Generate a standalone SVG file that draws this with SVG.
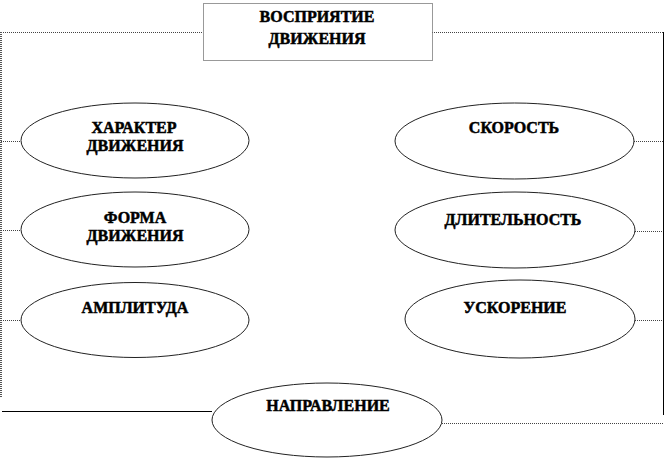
<svg xmlns="http://www.w3.org/2000/svg" width="670" height="460" viewBox="0 0 670 460">
<style>
.bg{fill:#fff}
.box{fill:#fff;stroke:#333;stroke-width:1;stroke-dasharray:1 1}
.el{fill:#fff;stroke:#222;stroke-width:1}
.dot{fill:none;stroke:#444;stroke-width:1;stroke-dasharray:1 1}
.dot2{fill:none;stroke:#555;stroke-width:2;stroke-dasharray:1 1}
.solid{fill:none;stroke:#000;stroke-width:1}
.t{font-family:"Liberation Serif","DejaVu Serif","Times New Roman",serif;font-weight:bold;font-size:16px;fill:#000;stroke:#000;stroke-width:0.5;text-anchor:middle}
</style>
<rect class="bg" x="0" y="0" width="670" height="460"/>
<g id="connectors">
  <line class="dot" x1="1" y1="32.5" x2="203" y2="32.5"/>
  <line class="dot" x1="432" y1="32.5" x2="663" y2="32.5"/>
  <line class="dot2" x1="1" y1="32" x2="1" y2="398"/>
  <line class="solid" x1="663.5" y1="32" x2="663.5" y2="415"/>
  <line class="dot" x1="1" y1="141.5" x2="21" y2="141.5"/>
  <line class="dot" x1="1" y1="230.5" x2="21" y2="230.5"/>
  <line class="dot" x1="1" y1="320.5" x2="21" y2="320.5"/>
  <line class="dot" x1="634" y1="141.5" x2="663" y2="141.5"/>
  <line class="dot" x1="635" y1="231.5" x2="663" y2="231.5"/>
  <line class="dot" x1="635" y1="320.5" x2="663" y2="320.5"/>
  <line class="solid" x1="2" y1="411.5" x2="212" y2="411.5"/>
  <line class="dot" x1="442" y1="423.5" x2="664" y2="423.5"/>
</g>
<g id="title">
  <rect class="box" x="203.5" y="3.5" width="229" height="57"/>
  <text class="t" x="317" y="22">ВОСПРИЯТИЕ</text>
  <text class="t" x="317" y="44">ДВИЖЕНИЯ</text>
</g>
<g id="character">
  <ellipse class="el" cx="135" cy="140.5" rx="114" ry="37.5"/>
  <text class="t" x="134" y="133">ХАРАКТЕР</text>
  <text class="t" x="135" y="151">ДВИЖЕНИЯ</text>
</g>
<g id="form">
  <ellipse class="el" cx="135" cy="229.5" rx="114" ry="37.5"/>
  <text class="t" x="135" y="223">ФОРМА</text>
  <text class="t" x="135" y="241">ДВИЖЕНИЯ</text>
</g>
<g id="amplitude">
  <ellipse class="el" cx="135" cy="320" rx="114" ry="37.5"/>
  <text class="t" x="135" y="313">АМПЛИТУДА</text>
</g>
<g id="speed">
  <ellipse class="el" cx="514.5" cy="141" rx="119.5" ry="38"/>
  <text class="t" x="514" y="133">СКОРОСТЬ</text>
</g>
<g id="duration">
  <ellipse class="el" cx="515" cy="230" rx="120" ry="38"/>
  <text class="t" x="513" y="225">ДЛИТЕЛЬНОСТЬ</text>
</g>
<g id="acceleration">
  <ellipse class="el" cx="520" cy="319" rx="115" ry="39"/>
  <text class="t" x="515" y="313">УСКОРЕНИЕ</text>
</g>
<g id="direction">
  <ellipse class="el" cx="327" cy="420" rx="115" ry="37"/>
  <text class="t" x="328" y="411">НАПРАВЛЕНИЕ</text>
</g>
</svg>
